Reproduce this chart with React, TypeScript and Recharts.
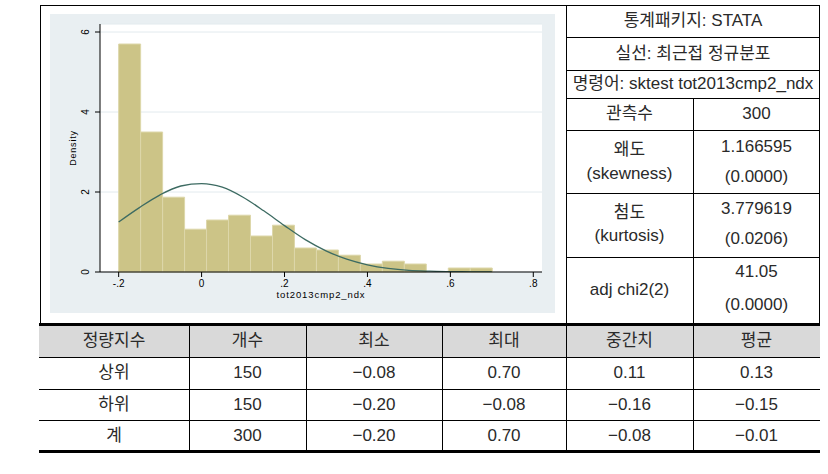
import React from 'react';
import { ComposedChart, XAxis, YAxis, CartesianGrid, Line, ReferenceArea } from 'recharts';

// ---- data ----
const binEdges = [-0.2, -0.147, -0.094, -0.041, 0.012, 0.065, 0.118, 0.171, 0.224, 0.277, 0.33, 0.383, 0.436, 0.489, 0.542, 0.595, 0.648, 0.701];
const binDensity = [5.7, 3.5, 1.87, 1.07, 1.3, 1.42, 0.9, 1.17, 0.6, 0.55, 0.42, 0.2, 0.27, 0.2, 0, 0.1, 0.1];
const curveX = [-0.2, -0.15, -0.1, -0.05, 0, 0.05, 0.1, 0.15, 0.2, 0.25, 0.3, 0.35, 0.4, 0.45, 0.5, 0.55, 0.6, 0.65, 0.7];
const curveDensity = [1.25, 1.61, 1.93, 2.15, 2.21, 2.12, 1.87, 1.53, 1.16, 0.81, 0.53, 0.32, 0.18, 0.09, 0.04, 0.02, 0.01, 0.003, 0.001];
const xTicks = [-0.2, 0, 0.2, 0.4, 0.6, 0.8];
const xTickLabels = ['-.2', '0', '.2', '.4', '.6', '.8'];
const yTicks = [0, 2, 4, 6];
const yTickLabels = ['0', '2', '4', '6'];
const xTitle = 'tot2013cmp2_ndx';
const yTitle = 'Density';

const infoRows = ['통계패키지: STATA', '실선: 최근접 정규분포', '명령어: sktest tot2013cmp2_ndx'];
const statNames = [['관측수'], ['왜도', '(skewness)'], ['첨도', '(kurtosis)'], ['adj chi2(2)']];
const statValues = [['300'], ['1.166595', '(0.0000)'], ['3.779619', '(0.0206)'], ['41.05', '(0.0000)']];

const tableHeader = ['정량지수', '개수', '최소', '최대', '중간치', '평균'];
const tableRows = [
  ['상위', '150', '−0.08', '0.70', '0.11', '0.13'],
  ['하위', '150', '−0.20', '−0.08', '−0.16', '−0.15'],
  ['계', '300', '−0.20', '0.70', '−0.08', '−0.01'],
];

// ---- styles ----
const FONT = "'Liberation Sans', 'Noto Sans CJK KR', sans-serif";
const CHART_FONT = "'Liberation Sans', Arial, sans-serif";
const TEXT = '#2a2a2a';
const BAR_FILL = '#CCC487';
const BAR_STROKE = '#DDD7AA';
const CURVE = '#3D6B62';

const curveData = curveX.map((x, i) => ({ x, y: curveDensity[i] }));

const HL = ({ x1, x2, y, t = 1 }: any) => (
  <div style={{ position: 'absolute', left: x1, top: y, width: x2 - x1, height: t, background: '#000' }} />
);
const VL = ({ x, y1, y2, t = 1 }: any) => (
  <div style={{ position: 'absolute', left: x, top: y1, width: t, height: y2 - y1, background: '#000' }} />
);
const T = ({ x1, x2, cy, text, size = 17 }: any) => (
  <div
    style={{
      position: 'absolute', left: x1, width: x2 - x1, top: cy - 12, height: 24, lineHeight: '24px',
      textAlign: 'center', fontSize: size, whiteSpace: 'nowrap', color: TEXT,
    }}
  >
    {text}
  </div>
);

const YTick = (props: any) => {
  const { x, y, payload } = props;
  const idx = yTicks.indexOf(payload.value);
  return (
    <text transform={`translate(${x - 4},${y}) rotate(-90)`} textAnchor="middle" fontSize={10}
      fill="#000" fontFamily={CHART_FONT}>
      {yTickLabels[idx]}
    </text>
  );
};

const YTitle = (props: any) => {
  const vb = props.viewBox || { x: 0, y: 10, width: 50, height: 248 };
  const cy = vb.y + vb.height / 2;
  return (
    <text transform={`translate(${vb.x + 26},${cy}) rotate(-90)`} textAnchor="middle" fontSize={9}
      letterSpacing={0.8} fill="#000" fontFamily={CHART_FONT}>
      {yTitle}
    </text>
  );
};

const XTitle = (props: any) => {
  const vb = props.viewBox || { x: 50, y: 258, width: 442, height: 41 };
  return (
    <text x={vb.x + vb.width / 2} y={vb.y + 26} textAnchor="middle" fontSize={9.5}
      letterSpacing={0.9} fill="#000" fontFamily={CHART_FONT}>
      {xTitle}
    </text>
  );
};

export default function App() {
  const colEdges = [39, 189, 306, 442, 566, 693, 820];
  const infoRowCenters = [21, 53.5, 84];
  const nameCenters = [[114], [150, 174], [213, 236], [290]];
  const valueCenters = [[114], [147, 177], [209, 239], [272, 305]];
  const rowCenters = [373, 404.5, 435.5];

  return (
    <div style={{ position: 'absolute', left: 0, top: 0, width: 828, height: 474, background: '#fff', fontFamily: FONT }}>
      {/* chart panel */}
      <div style={{ position: 'absolute', left: 50, top: 14, width: 505, height: 299, background: '#E9EFF2' }}>
        <ComposedChart width={505} height={299} margin={{ top: 10, right: 13, bottom: 0, left: 0 }}>
          <CartesianGrid vertical={false} stroke="#E2EAEE" fill="#FFFFFF" fillOpacity={1} />
          <XAxis
            dataKey="x" type="number" domain={[-0.245, 0.821]} allowDataOverflow ticks={xTicks}
            tickFormatter={(v: number) => xTickLabels[xTicks.indexOf(v)]}
            height={41} tickSize={5} tickMargin={3}
            stroke="#000" tickLine={{ stroke: '#000' }}
            tick={{ fontSize: 10, fill: '#000', fontFamily: CHART_FONT }}
            label={<XTitle />}
            interval={0}
          />
          <YAxis
            type="number" domain={[0, 6.2]} allowDataOverflow ticks={yTicks} width={50}
            tickSize={5} stroke="#000" tickLine={{ stroke: '#000' }} tick={<YTick />}
            label={<YTitle />}
            interval={0}
          />
          {binDensity.map((d, i) => (
            <ReferenceArea key={i} x1={binEdges[i]} x2={binEdges[i + 1]} y1={0} y2={d}
              fill={BAR_FILL} fillOpacity={1} stroke={BAR_STROKE} strokeWidth={1} ifOverflow="visible" />
          ))}
          <Line data={curveData} dataKey="y" type="monotone" stroke={CURVE} strokeWidth={1.3}
            dot={false} activeDot={false} isAnimationActive={false} />
        </ComposedChart>
      </div>

      {/* outer box and right table lines */}
      <HL x1={40} x2={820} y={5} />
      <VL x={40} y1={5} y2={324} />
      <VL x={566} y1={5} y2={324} />
      <VL x={819} y1={5} y2={324} />
      {[37, 70, 98, 130, 193, 257].map((y) => <HL key={y} x1={566} x2={820} y={y} />)}
      <VL x={693} y1={98} y2={324} />

      {infoRows.map((t, i) => <T key={i} x1={566} x2={820} cy={infoRowCenters[i]} text={t} />)}
      {statNames.map((lines, i) => lines.map((t, j) => (
        <T key={`n${i}${j}`} x1={566} x2={693} cy={nameCenters[i][j]} text={t} />
      )))}
      {statValues.map((lines, i) => lines.map((t, j) => (
        <T key={`v${i}${j}`} x1={693} x2={820} cy={valueCenters[i][j]} text={t} />
      )))}

      {/* bottom table */}
      <div style={{ position: 'absolute', left: 39, top: 326, width: 781, height: 31, background: '#D9D9D9' }} />
      <HL x1={39} x2={820} y={323} t={3} />
      <HL x1={39} x2={820} y={357} />
      <HL x1={39} x2={820} y={389} />
      <HL x1={39} x2={820} y={420} />
      <HL x1={39} x2={820} y={450} t={3} />
      {colEdges.slice(1, -1).map((x) => <VL key={x} x={x} y1={326} y2={450} />)}
      {tableHeader.map((t, i) => <T key={`h${i}`} x1={colEdges[i]} x2={colEdges[i + 1]} cy={341} text={t} />)}
      {tableRows.map((row, r) => row.map((t, c) => (
        <T key={`r${r}${c}`} x1={colEdges[c]} x2={colEdges[c + 1]} cy={rowCenters[r]} text={t} />
      )))}
    </div>
  );
}
